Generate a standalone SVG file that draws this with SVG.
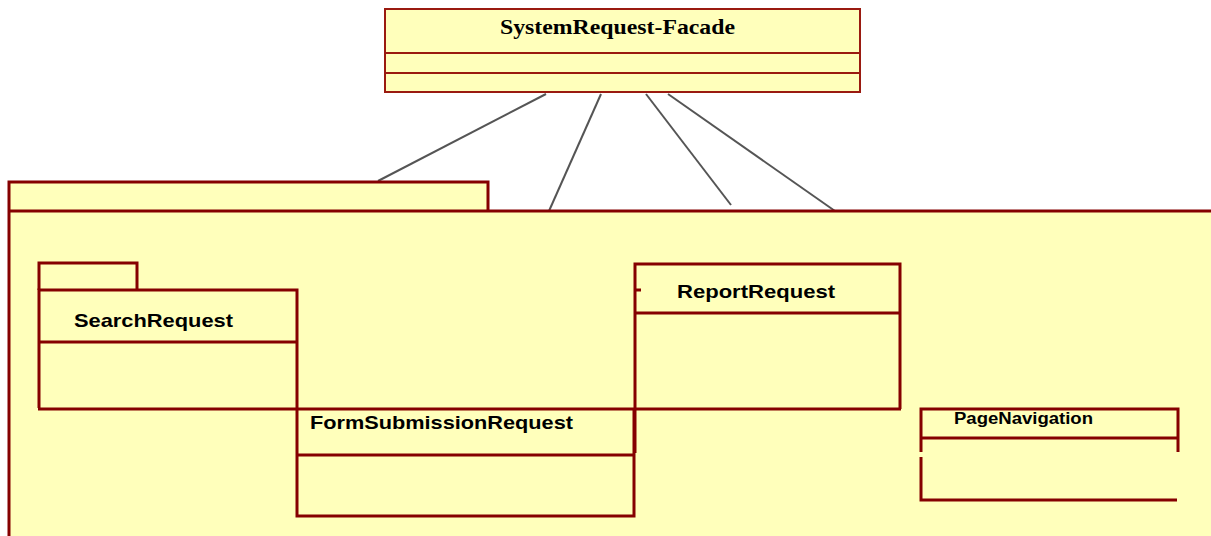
<svg xmlns="http://www.w3.org/2000/svg" width="1211" height="536" viewBox="0 0 1211 536">
<style>
.fill{fill:#FFFFBB;}
.edge{fill:none;stroke:#850000;stroke-width:3;}
.fac{fill:#FFFFBB;stroke:#9A1A10;stroke-width:2;}
.div{stroke:#9A1A10;stroke-width:2;}
.conn{stroke:#555;stroke-width:2;fill:none;}
.lbl{font-family:"Liberation Sans",Arial,sans-serif;font-weight:bold;fill:#000;}
.title{font-family:"Liberation Serif","Times New Roman",serif;font-weight:bold;font-size:22px;fill:#000;}
</style>
<rect width="1211" height="536" fill="#fff"/>
<g id="facade">
<rect class="fac" x="385" y="9" width="475" height="83"/>
<line class="div" x1="385" y1="53" x2="860" y2="53"/>
<line class="div" x1="385" y1="73" x2="860" y2="73"/>
<text class="title" x="500" y="34" textLength="235" lengthAdjust="spacingAndGlyphs">SystemRequest-Facade</text>
</g>
<g id="connectors">
<line class="conn" x1="546" y1="94" x2="378" y2="181"/>
<line class="conn" x1="601" y1="94" x2="549" y2="211"/>
<line class="conn" x1="646" y1="94" x2="731" y2="205"/>
<line class="conn" x1="668" y1="94" x2="835" y2="211"/>
</g>
<g id="package">
<rect class="fill" x="9" y="182" width="479" height="30"/>
<rect class="fill" x="9" y="211" width="1205" height="330"/>
<path class="edge" d="M9,540 V182 H488 V211 M9,211 H1214"/>
</g>
<g id="searchRequest">
<path class="edge" d="M39,290 V263 H137 V290"/>
<path class="edge" d="M39,408 V290 H297 V409 M39,342 H297"/>
<text class="lbl" x="74" y="327" font-size="19" textLength="159" lengthAdjust="spacingAndGlyphs">SearchRequest</text>
</g>
<g id="formSubmissionRequest">
<path class="edge" d="M297,409 V516 H634 V409 M297,455 H634"/>
<text class="lbl" x="310" y="429" font-size="19" textLength="263" lengthAdjust="spacingAndGlyphs">FormSubmissionRequest</text>
</g>
<g id="reportRequest">
<path class="edge" d="M635,453 V264 H900 V409 M635,313 H900 M635,290 H641"/>
<text class="lbl" x="677" y="298" font-size="19" textLength="158" lengthAdjust="spacingAndGlyphs">ReportRequest</text>
</g>
<line class="edge" x1="38" y1="409" x2="901" y2="409"/>
<g id="pageNavigation">
<path class="edge" d="M921,452 V409 H1178 V452 M921,438 H1178 M921,457 V500 H1177"/>
<text class="lbl" x="954" y="424" font-size="16" textLength="139" lengthAdjust="spacingAndGlyphs">PageNavigation</text>
</g>
</svg>
